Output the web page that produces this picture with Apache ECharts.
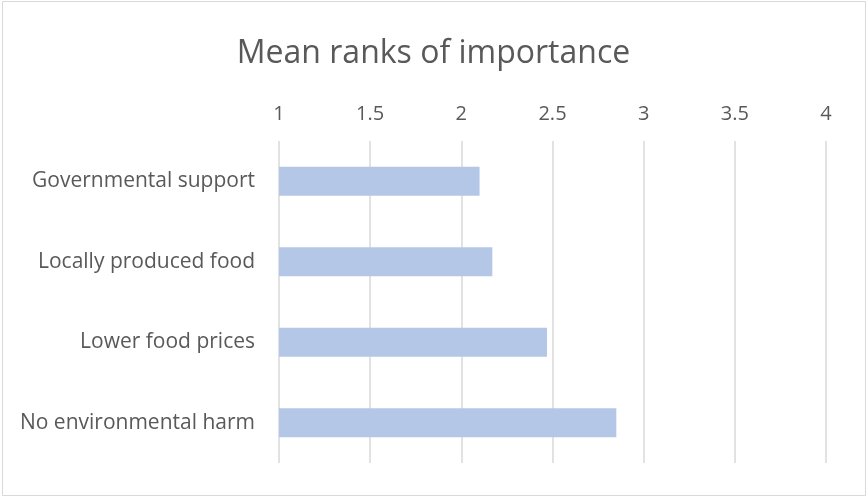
<!DOCTYPE html>
<html>
<head>
<meta charset="utf-8">
<script src="https://cdn.jsdelivr.net/npm/echarts@6/dist/echarts.min.js"></script>
<style>
  html, body { margin: 0; padding: 0; background: #fff; }
  #chart { width: 867px; height: 498px; }
</style>
</head>
<body>
<div id="chart"></div>
<script>
// Mean rank per factor (lower = more important)
const categories = ['Governmental support', 'Locally produced food', 'Lower food prices', 'No environmental harm'];
const meanRanks = [2.10, 2.17, 2.47, 2.85];
const axisMin = 1;
const axisMax = 4;
const axisStep = 0.5;

const textColor = '#595959';
const fontFamily = '"Open Sans", "Liberation Sans", sans-serif';

const chart = echarts.init(document.getElementById('chart'));
chart.setOption({
  animation: false,
  backgroundColor: '#fff',
  title: {
    text: 'Mean ranks of importance',
    left: 'center',
    top: 33,
    textStyle: { color: textColor, fontFamily: fontFamily, fontSize: 32, fontWeight: 'normal' }
  },
  graphic: [{
    type: 'rect',
    shape: { x: 2.5, y: 1.5, width: 863, height: 494 },
    style: { fill: 'none', stroke: '#d9d9d9', lineWidth: 1 },
    silent: true
  }],
  grid: { left: 279, right: 41, top: 141, bottom: 35 },
  xAxis: {
    type: 'value',
    position: 'top',
    min: axisMin,
    max: axisMax,
    interval: axisStep,
    axisLine: { show: false },
    axisTick: { show: false },
    axisLabel: { color: textColor, fontFamily: fontFamily, fontSize: 20, margin: 17 },
    splitLine: { show: true, lineStyle: { color: '#d9d9d9', width: 1.5 } }
  },
  yAxis: {
    type: 'category',
    data: categories,
    inverse: true,
    axisLine: { show: false },
    axisTick: { show: false },
    axisLabel: { color: textColor, fontFamily: fontFamily, fontSize: 21, margin: 24 }
  },
  series: [{
    type: 'bar',
    data: meanRanks,
    barWidth: 29,
    itemStyle: { color: '#b4c7e7' }
  }]
});
</script>
</body>
</html>
